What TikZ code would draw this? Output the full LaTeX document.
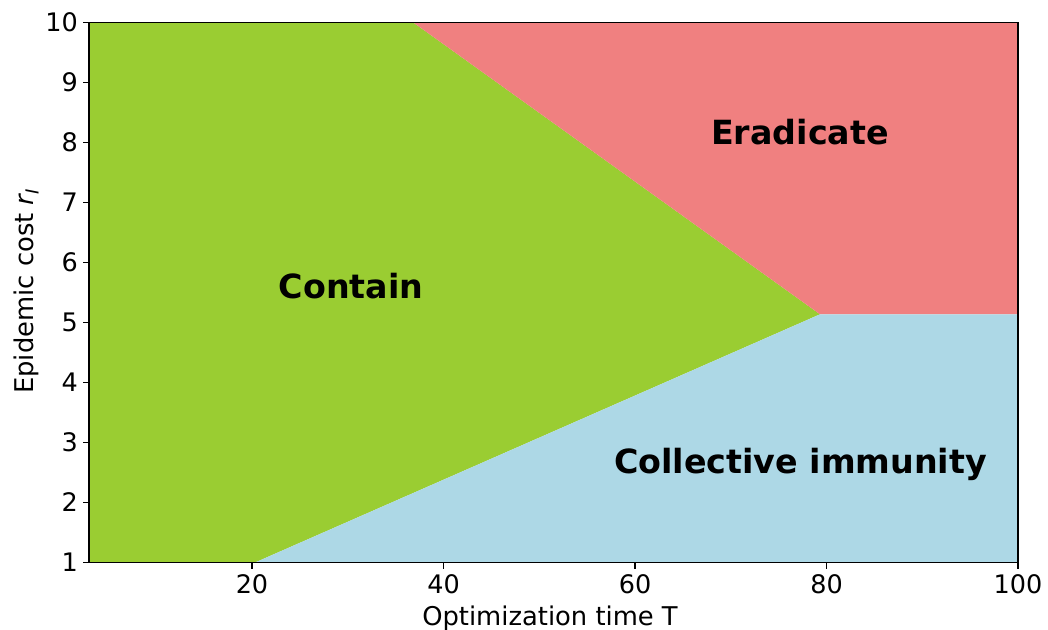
\documentclass[tikz,border=0pt]{standalone}
\usepackage{fontspec}
\setmainfont{DejaVu Sans}
\begin{document}
\begin{tikzpicture}[x=1pt,y=-1pt,
  ticklab/.style={font=\fontsize{25.5}{30}\selectfont,inner sep=0pt},
  axlab/.style={font=\fontsize{25.8}{30}\selectfont,inner sep=0pt},
  reglab/.style={font=\fontsize{33.3}{40}\selectfont\bfseries,inner sep=0pt,anchor=base},
  spine/.style={line width=1.1pt,draw=black},
  tickmark/.style={line width=1.1pt,draw=black}]
\definecolor{cgreen}{HTML}{9ACD32}
\definecolor{cred}{HTML}{F08080}
\definecolor{cblue}{HTML}{ADD8E6}
\useasboundingbox (0,0) rectangle (1048,629);
% corners and boundary points
\coordinate (tl) at (89,22.5);
\coordinate (tr) at (1018,22.5);
\coordinate (bl) at (89,562.5);
\coordinate (br) at (1018,562.5);
\coordinate (top) at (413.3,22.5);
\coordinate (bot) at (255,562.5);
\coordinate (tip) at (820,314.3);
\coordinate (rgt) at (1018,314.3);
% regions
\fill[cgreen] (tl) -- (top) -- (tip) -- (bot) -- (bl) -- cycle;
\fill[cred] (top) -- (tr) -- (rgt) -- (tip) -- cycle;
\fill[cblue] (bot) -- (tip) -- (rgt) -- (br) -- cycle;
% frame
\draw[spine] (tl) rectangle (br);
% x ticks
\foreach \xx/\lab in {252/20,443.5/40,635/60,826.5/80,1018/100}{
  \draw[tickmark] (\xx,562.5) -- (\xx,568.5);
  \node[ticklab,anchor=base] (xt\lab) at (\xx,593.5) {\lab};
}
% y ticks
\foreach \r in {1,...,10}{
  \pgfmathsetmacro\yy{562.5-(\r-1)*60}
  \draw[tickmark] (89,\yy) -- (82.5,\yy);
  \node[ticklab,anchor=east] (yt\r) at (78,\yy) {\r};
}
% axis labels
\node[axlab,anchor=base] (xlab) at (550,625) {Optimization time T};
\node[axlab,anchor=base,rotate=90] (ylab) at (33,291.5) {Epidemic cost {\itshape r}\raisebox{-0.22em}{\fontsize{18}{20}\selectfont\itshape I}};
% region labels
\node[reglab] (era) at (800,144) {Eradicate};
\node[reglab] (con) at (351,298.3) {Contain};
\node[reglab] (col) at (800.5,473) {Collective immunity};
\end{tikzpicture}
\end{document}
